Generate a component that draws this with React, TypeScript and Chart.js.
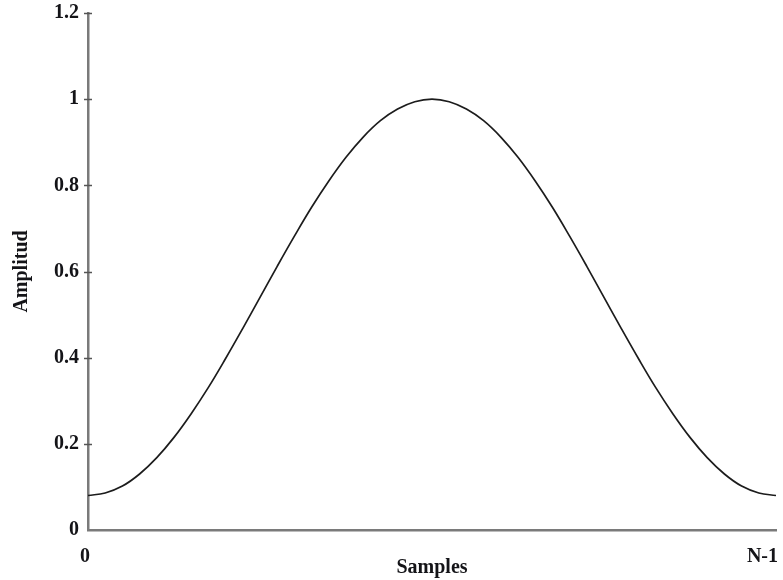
import React, { useEffect, useRef } from "react";
import { Chart, registerables } from "chart.js";

Chart.register(...registerables);

// Sample indices 0 … N-1 (41 samples)
const sampleIndex: number[] = Array.from({ length: 41 }, (_, i) => i);

// Window amplitude per sample
const amplitude: number[] = [
  0.08, 0.086, 0.102, 0.13, 0.168, 0.215, 0.27, 0.331, 0.398, 0.468,
  0.54, 0.612, 0.682, 0.749, 0.81, 0.865, 0.912, 0.95, 0.977, 0.994,
  1.0,
  0.994, 0.977, 0.95, 0.912, 0.865, 0.81, 0.749, 0.682, 0.612, 0.54,
  0.468, 0.398, 0.331, 0.27, 0.215, 0.168, 0.13, 0.102, 0.086, 0.08,
];

const yTickValues: number[] = [0, 0.2, 0.4, 0.6, 0.8, 1, 1.2];
const yTickLabels: string[] = ["0", "0.2", "0.4", "0.6", "0.8", "1", "1.2"];
const xTickValues: number[] = [0, 40];
const xTickLabels: string[] = ["0", "N-1"];

const FONT = "'Liberation Serif', 'Times New Roman', serif";
const TEXT = "#141418";
const AXIS = "#7a7a7a";

// Small tick marks crossing the y axis, and the two x-axis end labels
const axisDecor = {
  id: "axisDecor",
  afterDraw(chart: any) {
    const { ctx, scales } = chart;
    const y = scales.y;
    const x = scales.x;
    const ax = x.left;
    ctx.save();
    ctx.strokeStyle = "#555";
    ctx.lineWidth = 1.5;
    yTickValues.forEach((v) => {
      if (v === 0) return;
      const py = Math.round(y.getPixelForValue(v)) + 0.5;
      ctx.beginPath();
      ctx.moveTo(ax - 4, py);
      ctx.lineTo(ax + 4, py);
      ctx.stroke();
    });
    ctx.fillStyle = TEXT;
    ctx.font = `bold 20px ${FONT}`;
    ctx.textBaseline = "alphabetic";
    xTickValues.forEach((v, i) => {
      const px = x.getPixelForValue(v);
      const last = i === xTickValues.length - 1;
      ctx.textAlign = last ? "right" : "center";
      ctx.fillText(xTickLabels[i], last ? px + 2 : px - 3, 562);
    });
    ctx.restore();
  },
};

export default function App() {
  const ref = useRef<HTMLCanvasElement | null>(null);

  useEffect(() => {
    if (!ref.current) return;
    const chart = new Chart(ref.current, {
      type: "line",
      data: {
        labels: sampleIndex,
        datasets: [
          {
            data: sampleIndex.map((s, i) => ({ x: s, y: amplitude[i] })),
            borderColor: "#1c1c1c",
            borderWidth: 1.7,
            pointRadius: 0,
            tension: 0.4,
            fill: false,
          },
        ],
      },
      plugins: [axisDecor],
      options: {
        animation: false,
        responsive: false,
        maintainAspectRatio: false,
        layout: { padding: { top: 13, right: 7, left: 0, bottom: 0 } },
        plugins: { legend: { display: false }, tooltip: { enabled: false } },
        scales: {
          x: {
            type: "linear",
            min: 0,
            max: 40,
            grid: { display: false, drawTicks: false },
            border: { display: true, color: AXIS, width: 2.5 },
            ticks: { display: false },
            title: {
              display: true,
              text: "Samples",
              color: TEXT,
              font: { family: FONT, size: 20, weight: "bold" },
              padding: { top: 1, bottom: 0 },
            },
            afterFit(scale: any) {
              scale.height = 50;
              scale.paddingLeft = 0;
              scale.paddingRight = 0;
            },
          },
          y: {
            min: 0,
            max: 1.2,
            grid: { display: false, drawTicks: false },
            border: { display: true, color: AXIS, width: 2.5 },
            afterBuildTicks(scale: any) {
              scale.ticks = yTickValues.map((v) => ({ value: v }));
            },
            ticks: {
              color: TEXT,
              padding: 9,
              font: { family: FONT, size: 20, weight: "bold" },
              callback: (v: any) => {
                const i = yTickValues.findIndex((t) => Math.abs(t - Number(v)) < 1e-6);
                return i >= 0 ? yTickLabels[i] : "";
              },
            },
            title: {
              display: true,
              text: "Amplitud",
              color: TEXT,
              font: { family: FONT, size: 20, weight: "bold" },
              padding: { top: 10, bottom: 0 },
            },
            afterFit(scale: any) {
              scale.width = 88;
              scale.paddingTop = 0;
              scale.paddingBottom = 0;
            },
          },
        },
      },
    });
    return () => chart.destroy();
  }, []);

  return (
    <div style={{ position: "fixed", left: 0, top: 0, width: 783, height: 580, background: "#fff" }}>
      <canvas ref={ref} width={783} height={580} style={{ display: "block" }} />
    </div>
  );
}
